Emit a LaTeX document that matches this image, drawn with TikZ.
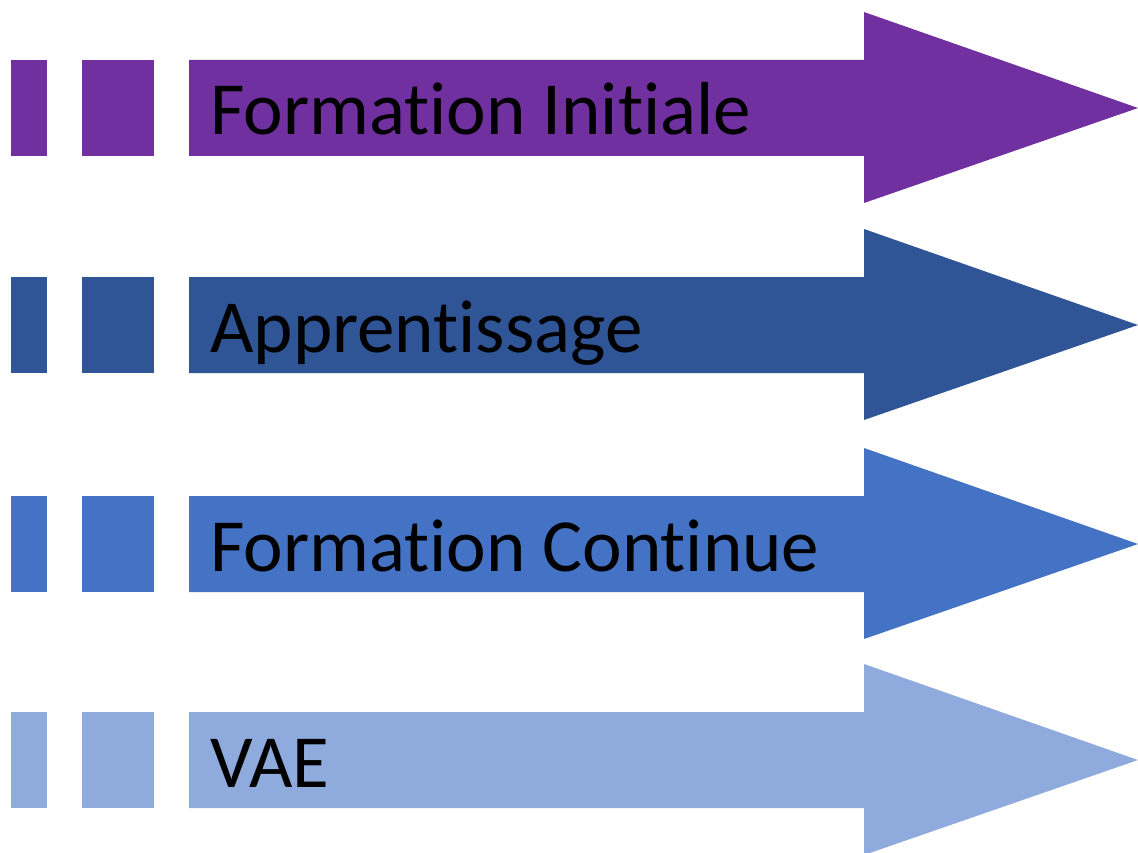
\documentclass[tikz,border=0pt]{standalone}
\usepackage{fontspec}
\setmainfont[Ligatures={NoCommon,NoRare,NoContextual}]{Carlito}
\definecolor{rowpurple}{HTML}{7030A0}
\definecolor{rowdark}{HTML}{2F5597}
\definecolor{rowblue}{HTML}{4472C4}
\definecolor{rowlight}{HTML}{8FAADC}
\tikzset{rowlabel/.style={anchor=base west,inner sep=0pt,font=\fontsize{75}{80}\selectfont}}
\begin{document}
\begin{tikzpicture}[x=1pt,y=-1pt]
\useasboundingbox (0,0) rectangle (1138,853);

\foreach \y/\c/\t [count=\i] in {60/rowpurple/Formation Initiale,
                                  277/rowdark/Apprentissage,
                                  496/rowblue/Formation Continue,
                                  712/rowlight/VAE}
{
\fill[\c] (11,\y) rectangle (47,\y+96);
\fill[\c] (82,\y) rectangle (154,\y+96);
\fill[\c]
       (189,\y) -- (864,\y) -- (864,\y-48) -- (1138,\y+48)
       -- (864,\y+143) -- (864,\y+96) -- (189,\y+96) -- cycle;
\node[rowlabel] (label\i) at (210,\y+75) {\t};
}
\end{tikzpicture}
\end{document}
